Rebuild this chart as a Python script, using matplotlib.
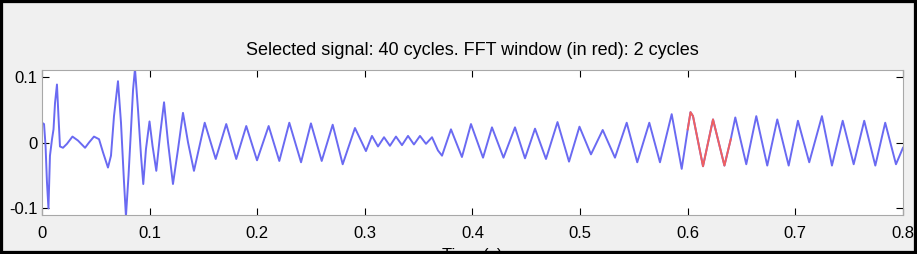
import matplotlib
matplotlib.use("Agg")
import matplotlib.pyplot as plt
from matplotlib.patches import Rectangle
import numpy as np

plt.rcParams['font.family'] = ['Liberation Sans', 'DejaVu Sans']

# Signal (peaks, troughs and turning points)
time_s = [
    0.0000, 0.0019, 0.0033, 0.0046, 0.0060, 0.0074, 0.0093, 0.0107, 0.0121, 0.0139,
    0.0153, 0.0167, 0.0195, 0.0232, 0.0283, 0.0334, 0.0400, 0.0437, 0.0483, 0.0530,
    0.0567, 0.0613, 0.0641, 0.0669, 0.0706, 0.0734, 0.0762, 0.0780, 0.0804, 0.0827,
    0.0846, 0.0864, 0.0892, 0.0920, 0.0941, 0.0966, 0.0999, 0.1027, 0.1062, 0.1096,
    0.1134, 0.1171, 0.1217, 0.1264, 0.1310, 0.1357, 0.1412, 0.1512, 0.1614, 0.1712,
    0.1805, 0.1898, 0.1998, 0.2106, 0.2205, 0.2298, 0.2407, 0.2499, 0.2599, 0.2701,
    0.2794, 0.2908, 0.3010, 0.3066, 0.3122, 0.3178, 0.3233, 0.3289, 0.3345, 0.3401,
    0.3456, 0.3512, 0.3568, 0.3624, 0.3679, 0.3717, 0.3800, 0.3902, 0.3986, 0.4098,
    0.4181, 0.4288, 0.4395, 0.4488, 0.4581, 0.4683, 0.4790, 0.4897, 0.4994, 0.5101,
    0.5210, 0.5324, 0.5433, 0.5531, 0.5643, 0.5742, 0.5851, 0.5944, 0.6000, 0.6026,
    0.6049, 0.6142, 0.6235, 0.6341, 0.6400, 0.6442, 0.6544, 0.6637, 0.6739, 0.6832,
    0.6938, 0.7024, 0.7129, 0.7247, 0.7340, 0.7440, 0.7542, 0.7640, 0.7743, 0.7835,
    0.7935, 0.8000,
]
signal = [
    0.030, 0.028, -0.005, -0.060, -0.100, -0.020, 0.005, 0.020, 0.060, 0.088,
    0.040, -0.006, -0.008, -0.002, 0.009, 0.003, -0.008, 0.000, 0.009, 0.005,
    -0.015, -0.038, -0.020, 0.040, 0.093, 0.030, -0.060, -0.112, -0.050, 0.020,
    0.080, 0.112, 0.050, -0.020, -0.063, -0.010, 0.032, -0.005, -0.043, 0.010,
    0.061, 0.000, -0.063, -0.010, 0.045, 0.000, -0.043, 0.030, -0.025, 0.028,
    -0.025, 0.025, -0.027, 0.025, -0.028, 0.030, -0.030, 0.029, -0.028, 0.027,
    -0.033, 0.022, -0.013, 0.010, -0.006, 0.008, -0.005, 0.009, -0.004, 0.010,
    -0.003, 0.010, -0.002, 0.008, -0.012, -0.020, 0.020, -0.022, 0.028, -0.023,
    0.023, -0.023, 0.023, -0.024, 0.021, -0.025, 0.031, -0.029, 0.024, -0.018,
    0.019, -0.023, 0.030, -0.030, 0.030, -0.030, 0.043, -0.040, 0.020, 0.046,
    0.040, -0.036, 0.035, -0.035, 0.005, 0.038, -0.033, 0.040, -0.035, 0.035,
    -0.035, 0.033, -0.030, 0.040, -0.035, 0.033, -0.033, 0.033, -0.035, 0.030,
    -0.033, -0.008,
]

fft_start = 0.60
fft_end = 0.64

x_ticks = [0, 0.1, 0.2, 0.3, 0.4, 0.5, 0.6, 0.7, 0.8]
x_labels = ['0', '0.1', '0.2', '0.3', '0.4', '0.5', '0.6', '0.7', '0.8']
y_ticks = [-0.1, 0, 0.1]
y_labels = ['-0.1', '0', '0.1']

t = np.array(time_s)
v = np.array(signal)
win = (t >= fft_start) & (t <= fft_end)

fig = plt.figure(figsize=(9.17, 2.54), dpi=100, facecolor='#f0f0f0')
ax = fig.add_axes([0.0458, 0.1535, 0.9389, 0.5709])
ax.set_facecolor('white')

ax.plot(t, v, color='#6a6af2', lw=1.4)
ax.plot(t[win], v[win], color='#f06060', lw=1.4)

ax.set_xlim(0, 0.8)
ax.set_ylim(-0.11, 0.11)
ax.set_xticks(x_ticks)
ax.set_xticklabels(x_labels)
ax.set_yticks(y_ticks)
ax.set_yticklabels(y_labels)
ax.tick_params(direction='in', top=True, right=True, length=5, width=0.8,
               labelsize=12, colors='black')
ax.tick_params(axis='x', pad=8)
ax.tick_params(axis='y', pad=3)
for s in ax.spines.values():
    s.set_color('#a8a8a8')
    s.set_linewidth(0.8)

ax.set_title('Selected signal: 40 cycles. FFT window (in red): 2 cycles',
             fontsize=13, pad=11)
ax.set_xlabel('Time (s)', fontsize=12, labelpad=5)

# black frame around the whole picture
fig.patches.append(Rectangle((0, 0), 1, 1, transform=fig.transFigure, fill=False,
                             ec='black', lw=4.5, zorder=10))

fig.savefig('out.png', dpi=100, facecolor=fig.get_facecolor())
